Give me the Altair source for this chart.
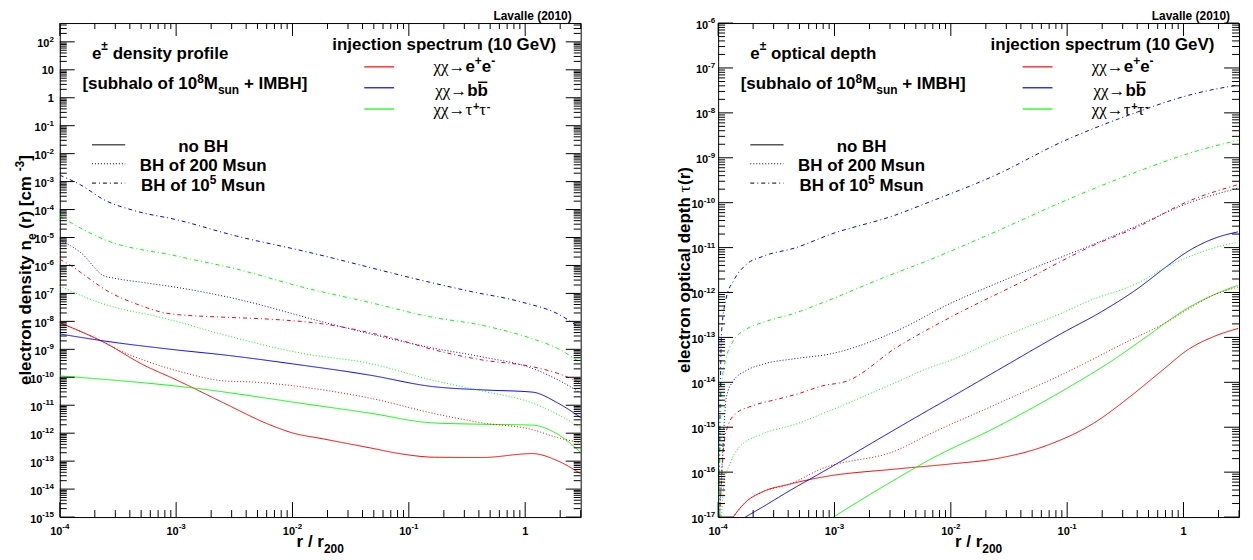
import altair as alt
import pandas as pd

# ================= values (log10 units) =================
# x = log10(r / r200)
# Left panel: log10 electron density n_e(r) [cm^-3]
dens_ee_none_x = [-4.0, -3.62, -3.28, -3.0, -2.85, -2.59, -2.2, -2.0, -1.74, -1.34, -1.05, -0.78, -0.37, 0.06, 0.28, 0.48]
dens_ee_none_y = [-8.05, -8.75, -9.56, -10.09, -10.39, -10.92, -11.69, -11.99, -12.2, -12.52, -12.75, -12.86, -12.87, -12.73, -12.99, -13.46]
dens_bb_none_x = [-4.0, -3.62, -3.0, -2.59, -2.0, -1.34, -0.8, -0.37, 0.06, 0.28, 0.48]
dens_bb_none_y = [-8.45, -8.70, -9.02, -9.2, -9.52, -9.92, -10.33, -10.45, -10.53, -10.92, -11.45]
dens_tt_none_x = [-4.0, -2.84, -1.91, -1.34, -0.8, -0.37, 0.06, 0.28, 0.48]
dens_tt_none_y = [-9.95, -10.39, -10.94, -11.28, -11.63, -11.68, -11.71, -12.04, -12.70]
dens_ee_bh2_x = [-4.0, -3.62, -3.48, -3.2, -2.91, -2.59, -2.34, -2.0, -1.74, -1.34, -0.78, -0.37, 0.06, 0.28, 0.48]
dens_ee_bh2_y = [-8.05, -8.75, -9.05, -9.50, -9.86, -10.13, -10.17, -10.3, -10.45, -10.74, -11.3, -11.63, -11.87, -12.16, -12.34]
dens_tt_bh2_x = [-4.0, -3.88, -3.62, -3.48, -3.2, -3.0, -2.59, -1.91, -1.34, -0.8, -0.37, 0.06, 0.28, 0.48]
dens_tt_bh2_y = [-6.73, -6.96, -7.38, -7.55, -7.79, -8.0, -8.48, -9.15, -9.50, -10.1, -10.49, -10.92, -11.33, -11.81]
dens_bb_bh2_x = [-4.0, -3.82, -3.62, -3.54, -3.3, -3.0, -2.48, -1.74, -1.34, -0.8, -0.37, 0.06, 0.28, 0.48]
dens_bb_bh2_y = [-5.09, -5.54, -6.37, -6.45, -6.6, -6.78, -7.20, -8.02, -8.44, -8.95, -9.27, -9.68, -10.09, -10.57]
dens_ee_bh5_x = [-4.0, -3.88, -3.82, -3.57, -3.34, -3.05, -2.59, -2.2, -1.74, -1.34, -1.05, -0.8, -0.37, 0.06, 0.28, 0.48]
dens_ee_bh5_y = [-5.78, -6.07, -6.25, -6.96, -7.38, -7.73, -7.85, -7.92, -8.09, -8.4, -8.7, -9.0, -9.38, -9.62, -9.86, -10.21]
dens_tt_bh5_x = [-4.0, -3.62, -3.0, -2.48, -1.91, -1.34, -0.8, -0.37, 0.06, 0.28, 0.48]
dens_tt_bh5_y = [-4.24, -5.07, -5.66, -6.13, -6.78, -7.32, -7.85, -8.14, -8.62, -8.97, -9.50]
dens_bb_bh5_x = [-4.0, -3.82, -3.62, -3.34, -3.0, -2.48, -1.91, -0.82, -0.48, -0.02, 0.28, 0.48]
dens_bb_bh5_y = [-2.77, -3.12, -3.65, -4.06, -4.36, -4.95, -5.48, -6.6, -6.92, -7.32, -7.73, -8.26]

# Right panel: log10 electron optical depth tau(r)
tau_ee_none_x = [-3.90, -3.87, -3.76, -3.62, -3.39, -3.105, -2.47, -2.01, -1.61, -1.18, -0.76, -0.47, -0.19, 0.04, 0.27, 0.47]
tau_ee_none_y = [-17.12, -17.0, -16.66, -16.44, -16.27, -16.11, -15.93, -15.82, -15.70, -15.41, -14.89, -14.34, -13.75, -13.27, -12.97, -12.80]
tau_bb_none_x = [-3.84, -3.765, -3.62, -3.39, -3.105, -2.5, -2.18, -2.01, -1.61, -1.04, -0.70, -0.387, -0.16, 0.04, 0.27, 0.467]
tau_bb_none_y = [-17.12, -17.0, -16.78, -16.42, -16.0, -15.08, -14.6, -14.35, -13.75, -12.9, -12.42, -11.90, -11.45, -11.08, -10.79, -10.65]
tau_tt_none_x = [-3.1, -3.009, -2.47, -2.18, -1.61, -1.04, -0.615, -0.3, -0.13, 0.04, 0.27, 0.467]
tau_tt_none_y = [-17.15, -17.0, -16.15, -15.72, -15.0, -14.19, -13.52, -12.95, -12.63, -12.34, -12.04, -11.84]
tau_ee_bh2_x = [-3.90, -3.87, -3.76, -3.62, -3.39, -3.105, -2.47, -2.18, -1.61, -1.04, -0.473, -0.131, 0.04, 0.239, 0.467]
tau_ee_bh2_y = [-17.12, -17.0, -16.66, -16.44, -16.27, -15.92, -15.52, -15.15, -14.49, -13.82, -13.08, -12.64, -12.37, -12.08, -11.88]
tau_tt_bh2_x = [-3.995, -3.97, -3.95, -3.90, -3.82, -3.62, -3.33, -3.105, -2.47, -2.18, -2.01, -1.61, -1.04, -0.815, -0.387, -0.16, 0.04, 0.27, 0.467]
tau_tt_bh2_y = [-17.5, -16.92, -16.26, -15.82, -15.45, -15.15, -14.93, -14.70, -14.0, -13.67, -13.52, -13.05, -12.45, -12.19, -11.78, -11.45, -11.21, -11.0, -10.88]
tau_bb_bh2_x = [-3.995, -3.96, -3.93, -3.87, -3.76, -3.62, -3.33, -3.04, -2.47, -2.01, -1.61, -1.04, -0.815, -0.387, 0.04, 0.467]
tau_bb_bh2_y = [-17.5, -15.5, -14.34, -13.97, -13.74, -13.60, -13.47, -13.37, -12.86, -12.25, -11.8, -11.2, -10.97, -10.5, -10.01, -9.68]
tau_ee_bh5_x = [-3.995, -3.95, -3.92, -3.85, -3.70, -3.48, -3.32, -3.105, -2.89, -2.47, -2.01, -1.38, -0.8, -0.387, 0.04, 0.467]
tau_ee_bh5_y = [-17.5, -15.37, -15.0, -14.70, -14.52, -14.37, -14.26, -14.08, -13.97, -13.23, -12.56, -11.75, -10.98, -10.53, -9.97, -9.60]
tau_tt_bh5_x = [-3.995, -3.97, -3.93, -3.87, -3.76, -3.62, -3.33, -3.105, -2.58, -2.18, -1.61, -1.04, -0.47, 0.10, 0.467]
tau_tt_bh5_y = [-17.5, -14.04, -13.45, -13.08, -12.82, -12.67, -12.45, -12.23, -11.67, -11.27, -10.64, -9.98, -9.38, -8.86, -8.61]
tau_bb_bh5_x = [-3.995, -3.97, -3.93, -3.87, -3.76, -3.62, -3.33, -3.04, -2.47, -2.18, -1.61, -1.04, -0.47, 0.10, 0.467]
tau_bb_bh5_y = [-17.5, -12.86, -12.12, -11.75, -11.38, -11.2, -11.0, -10.71, -10.27, -9.98, -9.38, -8.64, -8.05, -7.57, -7.38]

PROCS = ["ee", "bb", "tautau"]
PROC_COLORS = ["#ff0000", "#0000ff", "#00ff00"]
BHS = ["none", "bh200", "bh1e5"]
BH_DASH = [[1, 0], [1, 2], [4, 3, 1, 3]]

dens_series = {
    ("ee", "none"): (dens_ee_none_x, dens_ee_none_y),
    ("bb", "none"): (dens_bb_none_x, dens_bb_none_y),
    ("tautau", "none"): (dens_tt_none_x, dens_tt_none_y),
    ("ee", "bh200"): (dens_ee_bh2_x, dens_ee_bh2_y),
    ("bb", "bh200"): (dens_bb_bh2_x, dens_bb_bh2_y),
    ("tautau", "bh200"): (dens_tt_bh2_x, dens_tt_bh2_y),
    ("ee", "bh1e5"): (dens_ee_bh5_x, dens_ee_bh5_y),
    ("bb", "bh1e5"): (dens_bb_bh5_x, dens_bb_bh5_y),
    ("tautau", "bh1e5"): (dens_tt_bh5_x, dens_tt_bh5_y),
}
tau_series = {
    ("ee", "none"): (tau_ee_none_x, tau_ee_none_y),
    ("bb", "none"): (tau_bb_none_x, tau_bb_none_y),
    ("tautau", "none"): (tau_tt_none_x, tau_tt_none_y),
    ("ee", "bh200"): (tau_ee_bh2_x, tau_ee_bh2_y),
    ("bb", "bh200"): (tau_bb_bh2_x, tau_bb_bh2_y),
    ("tautau", "bh200"): (tau_tt_bh2_x, tau_tt_bh2_y),
    ("ee", "bh1e5"): (tau_ee_bh5_x, tau_ee_bh5_y),
    ("bb", "bh1e5"): (tau_bb_bh5_x, tau_bb_bh5_y),
    ("tautau", "bh1e5"): (tau_tt_bh5_x, tau_tt_bh5_y),
}

# ================= text helpers =================
SANS = "Liberation Sans"
SERIF = "Liberation Serif"
BOLD_W = {' ': 278, '!': 333, '(': 333, ')': 333, '+': 584, '-': 333, '.': 278, '/': 278,
          '[': 333, ']': 333, '\u00b1': 549,
          'A': 722, 'B': 722, 'C': 722, 'D': 722, 'E': 667, 'F': 611, 'G': 778, 'H': 722,
          'I': 278, 'J': 556, 'K': 722, 'L': 611, 'M': 833, 'N': 722, 'O': 778, 'P': 667,
          'Q': 778, 'R': 722, 'S': 667, 'T': 611, 'U': 722, 'V': 667, 'W': 944, 'X': 667,
          'Y': 667, 'Z': 611,
          'a': 556, 'b': 611, 'c': 556, 'd': 611, 'e': 556, 'f': 333, 'g': 611, 'h': 611,
          'i': 278, 'j': 278, 'k': 556, 'l': 278, 'm': 889, 'n': 611, 'o': 611, 'p': 611,
          'q': 611, 'r': 389, 's': 556, 't': 333, 'u': 611, 'v': 556, 'w': 778, 'x': 556,
          'y': 556, 'z': 500}
SERIF_W = {'\u03c4': 439, '\u03c7': 549}


def tw(s, size, style='b'):
    tab = BOLD_W if style == 'b' else SERIF_W
    return sum(tab.get(c, 556) for c in s) * size / 1000.0


def txt(text, x, y, size, style='b', align='left', angle=0, color='black'):
    props = dict(text=text, align=align, baseline='alphabetic', fontSize=size, color=color)
    if style == 'b':
        props.update(font=SANS, fontWeight='bold')
    else:
        props.update(font=SERIF, fontWeight='normal')
    if angle:
        props['angle'] = angle
    return alt.Chart().mark_text(**props).encode(x=alt.value(x), y=alt.value(y))


def rich(segs, x, y, anchor='left', angle=0):
    """Lay out text segments (text, size, rise, style) one after another.
    Leading / trailing spaces are turned into gaps (SVG drops them)."""
    widths = [tw(t, s, st) for t, s, r, st in segs]
    total = sum(widths)
    off = {'left': 0.0, 'center': total / 2.0, 'right': total}[anchor]
    out = []
    sign = 1 if angle == 0 else -1
    pos = (x - off) if angle == 0 else (y + off)
    for (t, s, r, st), w in zip(segs, widths):
        lead = len(t) - len(t.lstrip(' '))
        core = t.strip(' ')
        p = pos + sign * tw(' ' * lead, s, 'b')
        if core:
            if angle == 0:
                out.append(txt(core, p, y - r, s, st))
            else:
                out.append(txt(core, x - r, p, s, st, angle=270))
        pos += sign * w
    return out


def hrule(x1, x2, y, color='black', width=1.0, dash=None):
    kw = dict(color=color, strokeWidth=width)
    if dash is not None:
        kw['strokeDash'] = dash
    return alt.Chart().mark_rule(**kw).encode(x=alt.value(x1), x2=alt.value(x2), y=alt.value(y))


W, H = 523, 496


def panel(series, ydomain, ydecades, name_word, ytitle_segs, ytitle_x, ylab_gap):
    xs = alt.Scale(type='log', domain=[1e-4, 3], nice=False)
    ys = alt.Scale(type='log', domain=ydomain, nice=False)
    rows = []
    for (proc, bh), (lx, ly) in series.items():
        for a, b in zip(lx, ly):
            rows.append({'r': 10.0 ** a, 'v': 10.0 ** b, 'proc': proc, 'bh': bh, 'key': proc + '_' + bh})
    df = pd.DataFrame(rows)

    layers = []
    layers.append(
        alt.Chart(df).mark_line(clip=True, strokeWidth=1, interpolate='monotone').encode(
            x=alt.X('r:Q', scale=xs, axis=None),
            y=alt.Y('v:Q', scale=ys, axis=None),
            color=alt.Color('proc:N', scale=alt.Scale(domain=PROCS, range=PROC_COLORS), legend=None),
            strokeDash=alt.StrokeDash('bh:N', scale=alt.Scale(domain=BHS, range=BH_DASH), legend=None),
            detail='key:N',
        )
    )

    # ---- ticks (ROOT style, inward, on all four sides)
    x_major = [1e-4, 1e-3, 1e-2, 1e-1, 1.0]
    x_minor = [k * 10.0 ** d for d in range(-4, 1) for k in range(2, 10) if k * 10.0 ** d <= 3]
    y_major = [10.0 ** d for d in ydecades]
    y_minor = [k * 10.0 ** d for d in ydecades for k in range(2, 10) if k * 10.0 ** d <= ydomain[1]]

    def xr(vals, y1, y2):
        return alt.Chart(pd.DataFrame({'t': vals})).mark_rule(color='black', strokeWidth=1).encode(
            x=alt.X('t:Q', scale=xs, axis=None), y=alt.value(y1), y2=alt.value(y2))

    def yr(vals, x1, x2):
        return alt.Chart(pd.DataFrame({'t': vals})).mark_rule(color='black', strokeWidth=1).encode(
            y=alt.Y('t:Q', scale=ys, axis=None), x=alt.value(x1), x2=alt.value(x2))

    layers += [xr(x_major, H, H - 15), xr(x_minor, H, H - 7), xr(x_major, 0, 13), xr(x_minor, 0, 6),
               yr(y_major, 0, 15), yr(y_minor, 0, 7), yr(y_major, W - 15, W), yr(y_minor, W - 7, W)]

    # ---- x tick labels
    xl = pd.DataFrame({'t': [1e-4, 1e-3, 1e-2, 1e-1], 'e': ['-4', '-3', '-2', '-1']})
    wb = tw('10', 11)
    we = tw('-4', 8)
    shift = -(wb + we) / 2.0 + wb
    layers.append(alt.Chart(xl).mark_text(text='10', align='right', baseline='alphabetic', fontSize=11,
                                          font=SANS, fontWeight='bold', dx=shift).encode(
        x=alt.X('t:Q', scale=xs, axis=None), y=alt.value(H + 18.5)))
    layers.append(alt.Chart(xl).mark_text(align='left', baseline='alphabetic', fontSize=8,
                                          font=SANS, fontWeight='bold', dx=shift).encode(
        x=alt.X('t:Q', scale=xs, axis=None), y=alt.value(H + 11.5), text='e:N'))
    layers.append(alt.Chart(pd.DataFrame({'t': [1.0]})).mark_text(text='1', align='center', baseline='alphabetic',
                                                                   fontSize=11, font=SANS, fontWeight='bold').encode(
        x=alt.X('t:Q', scale=xs, axis=None), y=alt.value(H + 18.5)))

    # ---- y tick labels
    plain, sup = [], []
    for d in ydecades:
        if d == 0:
            plain.append({'t': 1.0, 's': '1'})
        elif d == 1:
            plain.append({'t': 10.0, 's': '10'})
        else:
            sup.append({'t': 10.0 ** d, 'e': str(d), 'w': round(tw(str(d), 8), 2)})
    sdf = pd.DataFrame(sup)
    for w, g in sdf.groupby('w'):
        g = g.reset_index(drop=True)
        layers.append(alt.Chart(g).mark_text(text='10', align='right', baseline='alphabetic', fontSize=11,
                                             font=SANS, fontWeight='bold', dy=5.5).encode(
            y=alt.Y('t:Q', scale=ys, axis=None), x=alt.value(-ylab_gap - w)))
        layers.append(alt.Chart(g).mark_text(align='right', baseline='alphabetic', fontSize=8,
                                             font=SANS, fontWeight='bold', dy=0).encode(
            y=alt.Y('t:Q', scale=ys, axis=None), x=alt.value(-ylab_gap), text='e:N'))
    if plain:
        layers.append(alt.Chart(pd.DataFrame(plain)).mark_text(align='right', baseline='alphabetic', fontSize=11,
                                                               font=SANS, fontWeight='bold', dy=4).encode(
            y=alt.Y('t:Q', scale=ys, axis=None), x=alt.value(-ylab_gap), text='s:N'))

    # ---- axis titles
    layers += rich([("r / r", 17, 0, 'b'), ("200", 12, -6, 'b')], W / 2.0, H + 30, anchor='center')
    layers += rich(ytitle_segs, ytitle_x, H / 2.0, anchor='center', angle=270)

    # ---- annotations
    layers.append(txt("Lavalle (2010)", W - 9, -3.5, 12, align='right'))
    layers += rich([("e", 17, 0, 'b'), ("\u00b1", 12, 9, 'b'), (" " + name_word, 17, 0, 'b')], 32.3, 36.3)
    layers += rich([("[subhalo of 10", 17, 0, 'b'), ("8", 12, 6, 'b'), ("M", 17, 0, 'b'),
                    ("sun", 12, -5, 'b'), (" + IMBH]", 17, 0, 'b')], 22.7, 66.3)
    # BH legend
    layers.append(hrule(32.3, 65.7, 122.3))
    layers.append(hrule(32.3, 65.7, 141.3, dash=[1, 2]))
    layers.append(hrule(32.3, 65.7, 160.7, dash=[4, 3, 1, 3]))
    layers += rich([("no BH", 17, 0, 'b')], 144, 129, anchor='center')
    layers += rich([("BH of 200 Msun", 17, 0, 'b')], 144, 149, anchor='center')
    layers += rich([("BH of 10", 17, 0, 'b'), ("5", 12, 7, 'b'), (" Msun", 17, 0, 'b')], 144, 169, anchor='center')
    # injection spectrum legend
    layers += rich([("injection spectrum (10 GeV)", 17, 0, 'b')], 386, 27.3, anchor='center')
    layers.append(hrule(305.7, 335.7, 44, color=PROC_COLORS[0], width=1.2))
    layers.append(hrule(305.7, 335.7, 65, color=PROC_COLORS[1], width=1.2))
    layers.append(hrule(305.7, 335.7, 86.3, color=PROC_COLORS[2], width=1.2))
    layers.append(txt("\u03c7\u03c7\u2192", 407.3, 49.5, 17, style='s', align='right'))
    layers += rich([("e", 17, 0, 'b'), ("+", 12, 7, 'b'), ("e", 17, 0, 'b'), ("-", 12, 7, 'b')], 407.3, 49.5)
    layers.append(txt("\u03c7\u03c7\u2192", 409, 73, 17, style='s', align='right'))
    layers += rich([("b", 17, 0, 'b'), ("b", 17, 0, 'b')], 409, 73)
    bw = tw("b", 17)
    layers.append(hrule(409 + bw + 0.5, 409 + 2 * bw - 0.5, 59.5, width=1.5))
    layers.append(txt("\u03c7\u03c7\u2192", 407.3, 92, 17, style='s', align='right'))
    layers += rich([("\u03c4", 17, 0, 's'), ("+", 11, 5, 'b'), ("\u03c4", 17, 0, 's'), ("-", 11, 5, 'b')], 407.3, 92)

    return alt.layer(*layers).properties(width=W, height=H)


left = panel(dens_series, [1e-15, 470], list(range(-15, 3)), "density profile",
             [("electron density n", 17, 0, 'b'), ("e", 12, -5, 'b'), (" (r)  [cm", 17, 0, 'b'),
              ("-3", 12, 7, 'b'), ("]", 17, 0, 'b')], -29, 6)
right = panel(tau_series, [1e-17, 1e-6], list(range(-17, -5)), "optical depth",
              [("electron optical depth ", 17, 0, 'b'), ("\u03c4", 17, 0, 's'), ("(r)", 17, 0, 'b')], -28, 3)

chart = alt.hconcat(left, right, spacing=138, bounds='flush').configure_view(
    stroke='black', strokeWidth=1
).properties(
    padding={'left': 5, 'top': 0, 'right': 5, 'bottom': 0}, background='white'
)

chart.save("out.html", embed_options={"renderer": "svg", "actions": False})
